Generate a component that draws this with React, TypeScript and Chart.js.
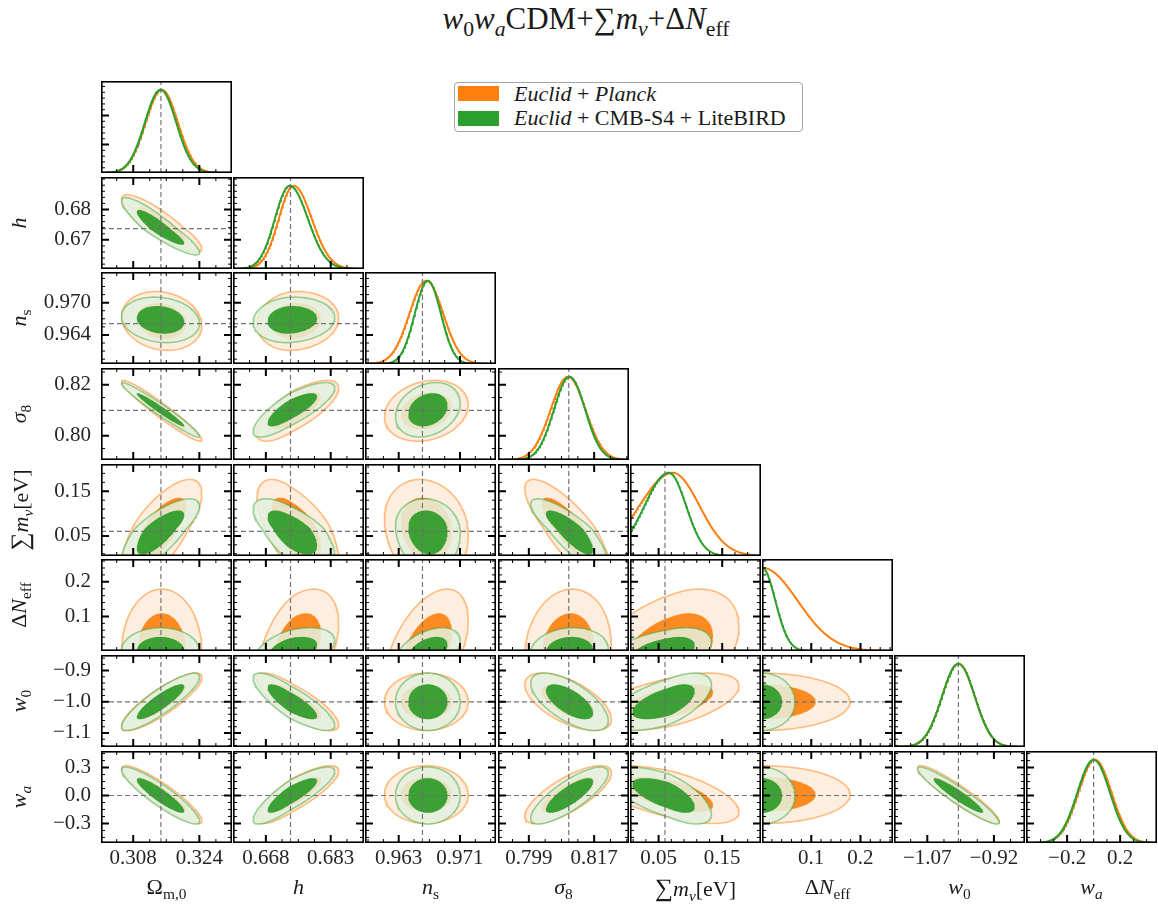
import React, { useEffect, useRef } from "react";
import { Chart, registerables } from "chart.js";
Chart.register(...registerables);

// ---------------- parameters of the triangle (row / column order) ----------------
const PARAMS = ["Omega_m0", "h", "n_s", "sigma_8", "sum_mnu", "DeltaN_eff", "w_0", "w_a"];
const AXIS_MIN = [0.3002, 0.6604, 0.9586, 0.7905, 0.005, 0.0, -1.145, -0.51];
const AXIS_MAX = [0.3319, 0.6907, 0.9757, 0.8266, 0.211, 0.266, -0.85, 0.478];
const FIDUCIAL = [0.3147, 0.6737, 0.9661, 0.81, 0.06, 0.0, -1.0, 0.0];
const X_TICKS = [
  [0.308, 0.324], [0.668, 0.683], [0.963, 0.971], [0.799, 0.817],
  [0.05, 0.15], [0.1, 0.2], [-1.07, -0.92], [-0.2, 0.2],
];
const Y_TICKS = [
  [0.31, 0.32], [0.67, 0.68], [0.964, 0.97], [0.8, 0.82],
  [0.05, 0.15], [0.1, 0.2], [-1.1, -1.0, -0.9], [-0.3, 0.0, 0.3],
];
const X_DECIMALS = [3, 3, 3, 3, 2, 1, 2, 1];
const Y_DECIMALS = [2, 2, 3, 2, 2, 1, 1, 1];

// ---------------- Euclid+Planck (orange) ----------------
const PLANCK_MEAN = [0.3149, 0.6744, 0.9666, 0.8098, 0.072, 0.0, -1.0, 0.01];
const PLANCK_SIGMA_LO = [0.0039, 0.0034, 0.0022, 0.0048, 0.052, 0.072, 0.037, 0.125];
const PLANCK_SIGMA_HI = [0.0039, 0.0042, 0.0022, 0.0048, 0.042, 0.072, 0.037, 0.125];
const PLANCK_CORR = [
  [],
  [-0.86],
  [-0.15, 0.1],
  [-0.96, 0.75, 0.2],
  [0.7, -0.6, -0.15, -0.8],
  [0.0, 0.45, 0.5, 0.1, 0.4],
  [0.85, -0.8, 0.0, -0.6, 0.55, 0.0],
  [-0.9, 0.82, 0.0, 0.75, -0.6, 0.0, -0.93],
];

// ---------------- Euclid+CMB-S4+LiteBIRD (green) ----------------
const CMB_MEAN = [0.3146, 0.6735, 0.9668, 0.8102, 0.066, 0.0, -1.0, 0.0];
const CMB_SIGMA_LO = [0.0038, 0.0034, 0.0017, 0.0043, 0.038, 0.027, 0.037, 0.123];
const CMB_SIGMA_HI = [0.0038, 0.0042, 0.0017, 0.0043, 0.027, 0.027, 0.037, 0.123];
const CMB_CORR = [
  [],
  [-0.9],
  [-0.15, 0.1],
  [-0.97, 0.8, 0.25],
  [0.75, -0.65, -0.1, -0.82],
  [0.0, 0.45, 0.45, 0.1, 0.4],
  [0.87, -0.82, 0.0, -0.65, 0.6, 0.0],
  [-0.9, 0.85, 0.0, 0.8, -0.65, 0.0, -0.94],
];

// 68% and 95% two-dimensional contour radii
const CONTOUR_RADII = [1.515, 2.486];

// ---------------- style / layout ----------------
const N = PARAMS.length;
const SERIF = '"Liberation Serif", "DejaVu Serif", serif';
const PANEL_LEFT0 = 101;
const PANEL_DX = 132.2;
const PANEL_W = 131;
const PANEL_TOP0 = 81;
const PANEL_DY = 95.65;
const PANEL_H = 92;
const X_AXIS_H = 34;
const DENSITY_MAX = 1.105;

const SETS = [
  {
    mean: PLANCK_MEAN, lo: PLANCK_SIGMA_LO, hi: PLANCK_SIGMA_HI, corr: PLANCK_CORR,
    line: "#ff7f0e", outerFill: "rgba(254,235,218,0.85)", innerFill: "rgba(255,127,14,0.9)",
    edge: "rgba(255,127,14,0.5)",
  },
  {
    mean: CMB_MEAN, lo: CMB_SIGMA_LO, hi: CMB_SIGMA_HI, corr: CMB_CORR,
    line: "#2ca02c", outerFill: "rgba(228,241,223,0.85)", innerFill: "rgba(44,155,40,0.92)",
    edge: "rgba(44,160,44,0.45)",
  },
];

const panelLeft = (c: number) => Math.round(PANEL_LEFT0 + PANEL_DX * c);
const panelTop = (r: number) => Math.round(PANEL_TOP0 + PANEL_DY * r);

function fmt(v: number, d: number) {
  const s = Math.abs(v) < 1e-12 ? (0).toFixed(d) : v.toFixed(d);
  return s.replace("-", "\u2212");
}

function minorTicks(major: number[], lo: number, hi: number) {
  const step = Math.abs(major[1] - major[0]);
  const mant = step / Math.pow(10, Math.floor(Math.log10(step) + 1e-9));
  const nd = [1, 5, 10].some((m) => Math.abs(mant - m) < 1e-6) ? 5 : 4;
  const ms = step / nd;
  const out: number[] = [];
  const k0 = Math.floor((lo - major[0]) / ms) - 1;
  const k1 = Math.ceil((hi - major[0]) / ms) + 1;
  for (let k = k0; k <= k1; k++) {
    const v = major[0] + k * ms;
    if (v < lo || v > hi) continue;
    if (major.some((m) => Math.abs(m - v) < ms * 0.01)) continue;
    out.push(v);
  }
  return out;
}

function curve1D(set: any, p: number) {
  const pts: { x: number; y: number }[] = [];
  const n = 200;
  const lo = AXIS_MIN[p], hi = AXIS_MAX[p];
  for (let i = 0; i <= n; i++) {
    const x = lo + ((hi - lo) * i) / n;
    const mu = set.mean[p];
    const s = x < mu ? set.lo[p] : set.hi[p];
    pts.push({ x, y: Math.exp(-0.5 * ((x - mu) / s) ** 2) });
  }
  return pts;
}

function contour2D(set: any, px: number, py: number, R: number) {
  const rho = set.corr[py][px];
  const q = Math.sqrt(1 - rho * rho);
  const pts: { x: number; y: number }[] = [];
  const n = 160;
  for (let i = 0; i <= n; i++) {
    const t = (2 * Math.PI * i) / n;
    const u = R * Math.cos(t);
    const v = R * (rho * Math.cos(t) + q * Math.sin(t));
    pts.push({
      x: set.mean[px] + u * (u < 0 ? set.lo[px] : set.hi[px]),
      y: set.mean[py] + v * (v < 0 ? set.lo[py] : set.hi[py]),
    });
  }
  return pts;
}

function framePlugin(cfg: any) {
  return {
    id: "panelFrame",
    afterDatasetsDraw(chart: any) {
      const { ctx, chartArea: a } = chart;
      const xs = chart.scales.x;
      const ys = chart.scales[cfg.yScale];
      ctx.save();
      ctx.strokeStyle = "#000";
      ctx.lineCap = "butt";
      const vt = (vals: number[], len: number, lw: number) => {
        ctx.lineWidth = lw;
        ctx.beginPath();
        for (const v of vals) {
          const p = xs.getPixelForValue(v);
          if (p < a.left + 1 || p > a.right - 1) continue;
          if (cfg.bottom) { ctx.moveTo(p, a.bottom); ctx.lineTo(p, a.bottom - len); }
          if (cfg.top) { ctx.moveTo(p, a.top); ctx.lineTo(p, a.top + len); }
        }
        ctx.stroke();
      };
      const ht = (vals: number[], len: number, lw: number) => {
        ctx.lineWidth = lw;
        ctx.beginPath();
        for (const v of vals) {
          const p = ys.getPixelForValue(v);
          if (p < a.top + 1 || p > a.bottom - 1) continue;
          if (cfg.left) { ctx.moveTo(a.left, p); ctx.lineTo(a.left + len, p); }
          if (cfg.right) { ctx.moveTo(a.right, p); ctx.lineTo(a.right - len, p); }
        }
        ctx.stroke();
      };
      vt(cfg.xMinor, 4, 1);
      vt(cfg.xMajor, 8, 2);
      ht(cfg.yMinor, 4, 1);
      ht(cfg.yMajor, 8, 2);
      ctx.lineWidth = 1.6;
      ctx.strokeRect(a.left + 0.8, a.top + 0.8, a.right - a.left - 1.6, a.bottom - a.top - 1.6);
      ctx.restore();
    },
  };
}

const TICK_FONT = { family: SERIF, size: 21 };

function buildConfig(r: number, c: number) {
  const diag = r === c;
  const showY = c === 0 && r > 0;
  const showX = r === N - 1;
  const layers: any[] = [];
  const dash = { showLine: true, pointRadius: 0, borderColor: "rgba(110,110,110,0.95)", borderWidth: 1.2, borderDash: [5, 3], fill: false };

  if (diag) {
    for (const set of SETS) {
      layers.push({ data: curve1D(set, c), showLine: true, pointRadius: 0, borderColor: set.line, borderWidth: 2, fill: false });
    }
    layers.push({ ...dash, data: [{ x: FIDUCIAL[c], y: 0 }, { x: FIDUCIAL[c], y: DENSITY_MAX }] });
  } else {
    for (const set of SETS) {
      layers.push({
        data: contour2D(set, c, r, CONTOUR_RADII[1]), showLine: true, pointRadius: 0,
        borderColor: set.edge, borderWidth: 1.6, backgroundColor: set.outerFill, fill: "shape",
      });
      layers.push({
        data: contour2D(set, c, r, CONTOUR_RADII[0]), showLine: true, pointRadius: 0,
        borderColor: "rgba(0,0,0,0)", borderWidth: 0, backgroundColor: set.innerFill, fill: "shape",
      });
    }
    layers.push({ ...dash, data: [{ x: FIDUCIAL[c], y: AXIS_MIN[r] }, { x: FIDUCIAL[c], y: AXIS_MAX[r] }] });
    layers.push({ ...dash, data: [{ x: AXIS_MIN[c], y: FIDUCIAL[r] }, { x: AXIS_MAX[c], y: FIDUCIAL[r] }] });
  }
  const datasets = layers.reverse();

  const zeroPad = (s: any) => { s.paddingLeft = 0; s.paddingRight = 0; s.paddingTop = 0; s.paddingBottom = 0; };

  const scales: any = {
    x: {
      type: "linear", min: AXIS_MIN[c], max: AXIS_MAX[c], display: showX, position: "bottom",
      grid: { display: false, drawTicks: false }, border: { display: false },
      ticks: {
        autoSkip: false, maxRotation: 0, minRotation: 0, padding: 3, color: "#262626", font: TICK_FONT,
        callback: (v: number) => fmt(v, X_DECIMALS[c]),
      },
      afterBuildTicks: (s: any) => { s.ticks = X_TICKS[c].map((v) => ({ value: v })); },
      afterFit: (s: any) => { if (showX) s.height = X_AXIS_H; zeroPad(s); },
    },
    y: {
      type: "linear", position: "left",
      min: diag ? 0 : AXIS_MIN[r], max: diag ? DENSITY_MAX : AXIS_MAX[r], display: showY,
      grid: { display: false, drawTicks: false }, border: { display: false },
      ticks: {
        autoSkip: false, padding: 10, color: "#262626", font: TICK_FONT,
        callback: (v: number) => fmt(v, Y_DECIMALS[r]),
      },
      afterBuildTicks: (s: any) => { if (!diag) s.ticks = Y_TICKS[r].map((v) => ({ value: v })); },
      afterFit: (s: any) => { if (showY) s.width = panelLeft(0); zeroPad(s); },
    },
  };
  if (diag) {
    scales.yp = {
      type: "linear", position: "left", min: AXIS_MIN[r], max: AXIS_MAX[r], display: false,
      afterFit: (s: any) => { zeroPad(s); },
    };
  }

  const frame = framePlugin({
    yScale: diag ? "yp" : "y",
    xMajor: X_TICKS[c], xMinor: minorTicks(X_TICKS[c], AXIS_MIN[c], AXIS_MAX[c]),
    yMajor: Y_TICKS[r], yMinor: minorTicks(Y_TICKS[r], AXIS_MIN[r], AXIS_MAX[r]),
    bottom: true, left: true, top: !diag, right: !diag,
  });

  return {
    type: "scatter",
    data: { datasets },
    options: {
      animation: false, responsive: false, events: [],
      layout: { padding: 0, autoPadding: false },
      elements: { line: { tension: 0 } },
      plugins: { legend: { display: false }, tooltip: { enabled: false }, title: { display: false } },
      scales,
    },
    plugins: [frame],
  } as any;
}

function Panel({ r, c }: { r: number; c: number }) {
  const ref = useRef<HTMLCanvasElement>(null);
  useEffect(() => {
    const chart = new Chart(ref.current as HTMLCanvasElement, buildConfig(r, c));
    return () => chart.destroy();
  }, [r, c]);
  const showY = c === 0 && r > 0;
  const showX = r === N - 1;
  const left = showY ? 0 : panelLeft(c);
  const top = panelTop(r);
  const w = PANEL_W + (showY ? panelLeft(0) : 0);
  const h = PANEL_H + (showX ? X_AXIS_H : 0);
  return (
    <div style={{ position: "absolute", left, top, width: w, height: h }}>
      <canvas ref={ref} width={w} height={h} style={{ width: w, height: h }} />
    </div>
  );
}

const Sub = ({ children }: any) => (
  <span style={{ fontSize: "0.7em", position: "relative", top: "0.3em", lineHeight: 0 }}>{children}</span>
);

const AXIS_TITLES = [
  <span>Ω<Sub>m,0</Sub></span>,
  <span><i>h</i></span>,
  <span><i>n</i><Sub>s</Sub></span>,
  <span><i>σ</i><Sub>8</Sub></span>,
  <span><span style={{ fontSize: "1.15em" }}>∑</span><i>m</i><Sub><i>ν</i></Sub>[eV]</span>,
  <span>Δ<i>N</i><Sub>eff</Sub></span>,
  <span><i>w</i><Sub>0</Sub></span>,
  <span><i>w</i><Sub><i>a</i></Sub></span>,
];

export default function App() {
  const panels: any[] = [];
  for (let r = 0; r < N; r++) for (let c = 0; c <= r; c++) panels.push(<Panel key={`${r}-${c}`} r={r} c={c} />);

  const xTitles = AXIS_TITLES.map((t, c) => (
    <div key={"xt" + c} style={{ position: "absolute", left: panelLeft(c) + PANEL_W / 2, top: 887, transform: "translate(-50%,-50%)", whiteSpace: "nowrap", fontSize: 22 }}>{t}</div>
  ));
  const yTitles = AXIS_TITLES.map((t, r) => r === 0 ? null : (
    <div key={"yt" + r} style={{ position: "absolute", left: 19, top: panelTop(r) + PANEL_H / 2, transform: "translate(-50%,-50%) rotate(-90deg)", whiteSpace: "nowrap", fontSize: 22 }}>{t}</div>
  ));

  return (
    <div style={{ position: "absolute", left: 0, top: 0, width: 1158, height: 911, background: "#fff", fontFamily: SERIF, color: "#1a1a1a", overflow: "hidden" }}>
      <div style={{ position: "absolute", left: 586, top: 19, transform: "translate(-50%,-50%)", whiteSpace: "nowrap", fontSize: 31 }}>
        <i>w</i><Sub>0</Sub><i>w</i><Sub><i>a</i></Sub>CDM+∑<i>m</i><Sub><i>ν</i></Sub>+Δ<i>N</i><Sub>eff</Sub>
      </div>
      {panels}
      <div style={{ position: "absolute", left: 454, top: 82, width: 349, height: 50, border: "1.5px solid #a6a6a6", borderRadius: 4, background: "#fff", boxSizing: "border-box" }}>
        <div style={{ position: "absolute", left: 3, top: 3, width: 41, height: 15, background: "#ff7f0e" }} />
        <div style={{ position: "absolute", left: 3, top: 28, width: 41, height: 15, background: "#2ca02c" }} />
        <div style={{ position: "absolute", left: 59, top: -1, fontSize: 22, whiteSpace: "nowrap", lineHeight: "24px" }}>
          <i>Euclid</i> + <i>Planck</i>
        </div>
        <div style={{ position: "absolute", left: 59, top: 23, fontSize: 22, whiteSpace: "nowrap", lineHeight: "24px" }}>
          <i>Euclid</i> + CMB-S4 + LiteBIRD
        </div>
      </div>
      {xTitles}
      {yTitles}
    </div>
  );
}
